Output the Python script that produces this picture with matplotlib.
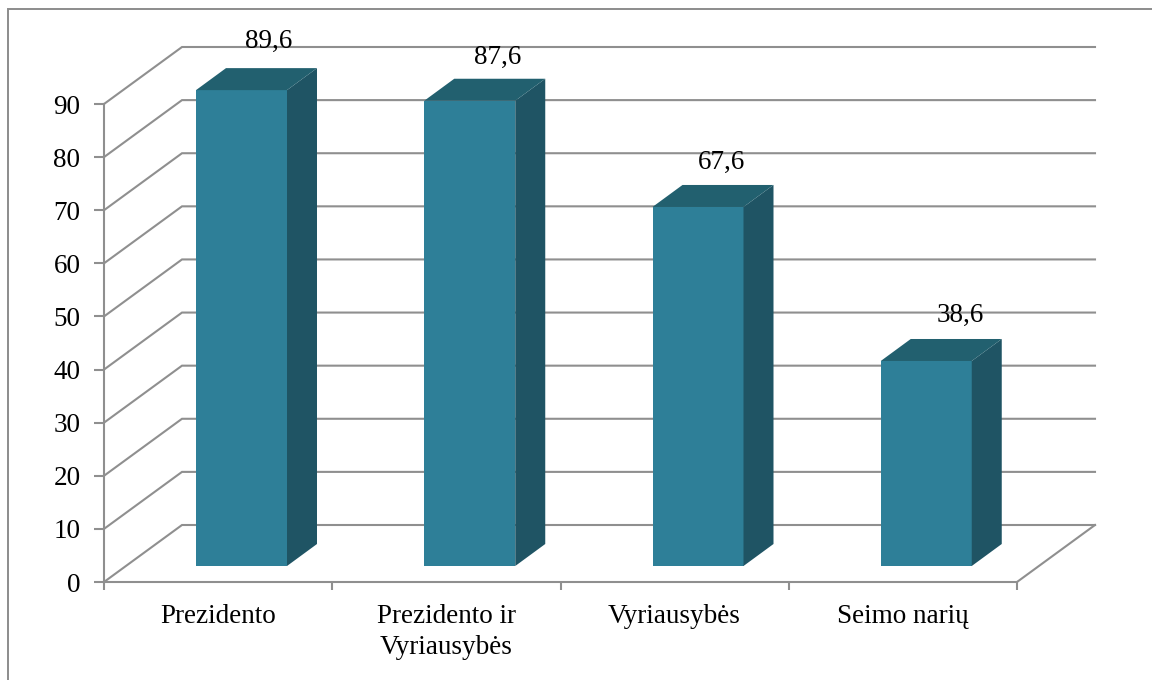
import matplotlib
matplotlib.use('Agg')
import matplotlib.pyplot as plt
from matplotlib.lines import Line2D
from matplotlib.patches import Polygon

categories = ['Prezidento', 'Prezidento ir\nVyriausybės', 'Vyriausybės', 'Seimo narių']
values = [89.6, 87.6, 67.6, 38.6]
y_ticks = [0, 10, 20, 30, 40, 50, 60, 70, 80, 90]

W, H = 1152, 680
# front plane of the 3d box, in pixels
LEFT, RIGHT, BOTTOM, TOP = 104, 1017, 582, 104
px_x = (RIGHT - LEFT) / len(categories)
px_y = (BOTTOM - TOP) / 90

# depth of the box and of the bars, in data units
box_dx, box_dy = 78 / px_x, 57 / px_y
bar_dx, bar_dy = 30 / px_x, 22 / px_y
base_x, base_y = 92 / px_x, 16 / px_y
bar_w = 91 / px_x

GREY = '#8f8f8f'
FRONT = '#2e7f98'
SIDE = '#1f5464'
ROOF = '#22606f'
FS = 19.5

plt.rcParams['font.family'] = ['Liberation Serif', 'DejaVu Serif']

fig = plt.figure(figsize=(W / 100, H / 100), dpi=100)
ax = fig.add_axes([LEFT / W, 1 - BOTTOM / H, (RIGHT - LEFT) / W, (BOTTOM - TOP) / H])
ax.set_xlim(0, len(categories))
ax.set_ylim(0, 90)
ax.patch.set_visible(False)

# the picture frame only shows on the left and at the top
fig.add_artist(Line2D([8 / W, 8 / W, 1], [0, 1 - 9 / H, 1 - 9 / H], transform=fig.transFigure,
                      color='#8c8c8c', lw=1.4, solid_joinstyle='miter'))

for s in ['top', 'right']:
    ax.spines[s].set_visible(False)
for s in ['left', 'bottom']:
    ax.spines[s].set_color(GREY)
    ax.spines[s].set_linewidth(1.5)

ax.set_yticks(y_ticks)
ax.set_xticks(range(len(categories) + 1))
ax.set_xticklabels([])
ax.set_xticks([i + 0.5 for i in range(len(categories))], minor=True)
ax.set_xticklabels(categories, minor=True, fontsize=FS, linespacing=1.3)
ax.tick_params(axis='x', which='minor', length=0, pad=16)
ax.tick_params(axis='x', which='major', length=6, color=GREY, width=1.5)
ax.tick_params(axis='y', length=7, color=GREY, width=1.5, labelsize=FS, pad=10)

# walls of the box
n = len(categories)
for v in y_ticks:
    ax.plot([0, box_dx, n + box_dx], [v, v + box_dy, v + box_dy], color=GREY, lw=1.5,
            clip_on=False, zorder=1, solid_joinstyle='miter')
ax.plot([n, n + box_dx], [0, box_dy], color=GREY, lw=1.5, clip_on=False, zorder=1)

for i, v in enumerate(values):
    x0 = i + base_x
    x1 = x0 + bar_w
    y0 = base_y
    y1 = base_y + v
    ax.add_patch(Polygon([(x0, y0), (x1, y0), (x1, y1), (x0, y1)], closed=True, facecolor=FRONT,
                         edgecolor='none', clip_on=False, zorder=3))
    ax.add_patch(Polygon([(x1, y0), (x1 + bar_dx, y0 + bar_dy), (x1 + bar_dx, y1 + bar_dy), (x1, y1)],
                         closed=True, facecolor=SIDE, edgecolor='none', clip_on=False, zorder=3))
    ax.add_patch(Polygon([(x0, y1), (x1, y1), (x1 + bar_dx, y1 + bar_dy), (x0 + bar_dx, y1 + bar_dy)],
                         closed=True, facecolor=ROOF, edgecolor='none', clip_on=False, zorder=3))

# value labels sit up and to the right of each bar
label_dx = [27, 28, 24, 34]
label_dy = [49, 43, 45, 46]
for i, v in enumerate(values):
    xc = i + base_x + bar_w / 2
    ax.annotate(str(v).replace('.', ','), (xc, base_y + v), xytext=(label_dx[i] * 0.72, label_dy[i] * 0.72),
                textcoords='offset points', ha='center', va='center', fontsize=FS,
                annotation_clip=False, zorder=4)

fig.savefig('out.png', dpi=100)
